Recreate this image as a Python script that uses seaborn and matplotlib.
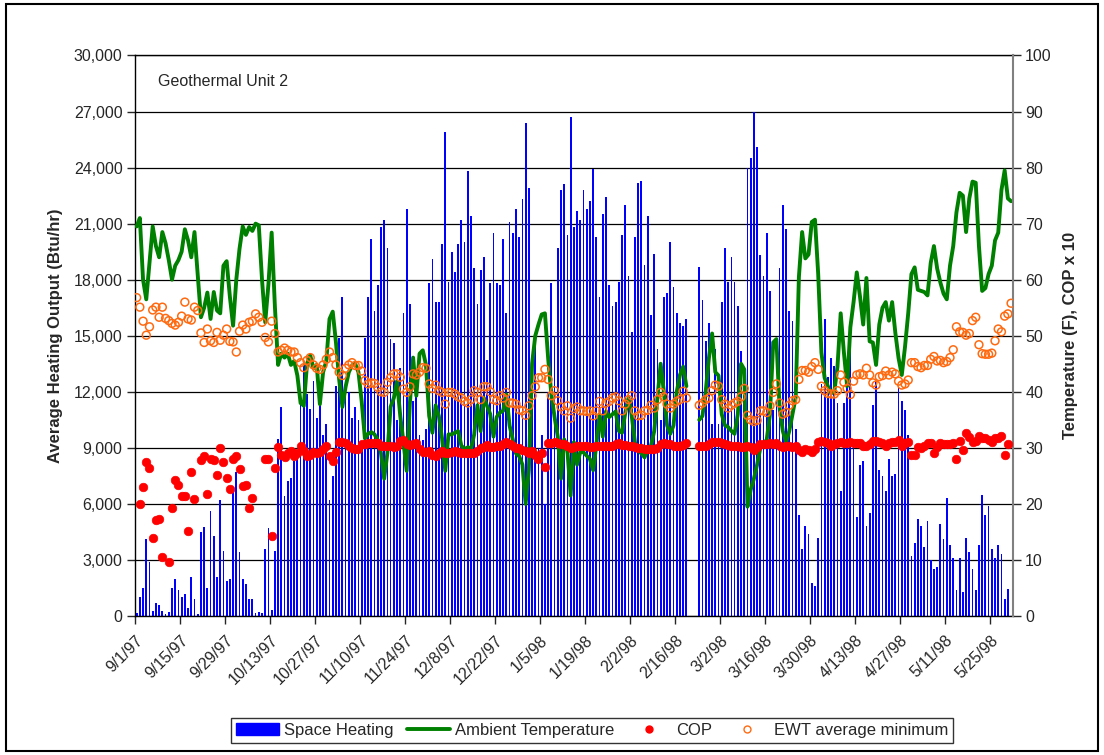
import matplotlib
matplotlib.use('Agg')
import matplotlib.pyplot as plt
import matplotlib.ticker as mticker
from matplotlib.lines import Line2D
from matplotlib.patches import Patch, Rectangle
import numpy as np
import pandas as pd
import seaborn as sns

nan = np.nan

# daily readings, 9/1/97 .. 5/31/98
dates = pd.date_range('1997-09-01', '1998-05-31', freq='D')

space_heating = [
    150, 1000, 1500, 4100, 2900, 250, 700, 600, 250, 100,
    200, 1500, 2000, 1400, 1000, 1200, 450, 2100, 900, 100,
    4500, 4750, 1500, 5600, 4300, 2100, 6200, 3500, 1900, 2000,
    6900, 7700, 3400, 2000, 1700, 900, 900, 150, 200, 150,
    3600, 4700, 300, 3500, 9500, 11200, 6400, 7200, 7400, 8300,
    8900, 11500, 13500, 11900, 11100, 12600, 10600, 11300, 9700, 10300,
    6200, 7500, 12300, 14900, 17100, 11900, 12000, 10600, 11200, 10500,
    9200, 14900, 17100, 20200, 16300, 17700, 20800, 21200, 19700, 14800,
    14600, 10500, 13300, 16200, 21800, 16700, 11500, 12300, 9700, 9400,
    10000, 17800, 19100, 16800, 16800, 19900, 25900, 17900, 19500, 18400,
    19900, 21200, 20000, 23800, 21400, 18600, 16700, 18500, 19200, 13700,
    17800, 20500, 17800, 17700, 20200, 16200, 21100, 20500, 21800, 20300,
    22300, 26400, 22900, 12600, 14500, 9000, 9700, 6000, 12000, 17800,
    15000, 19700, 22800, 23100, 20400, 26700, 20800, 21700, 21200, 22800,
    21800, 22200, 23900, 20300, 17100, 21500, 22400, 17700, 16600, 16800,
    17900, 20400, 22000, 18200, 15200, 20300, 23200, 23300, 18800, 21400,
    16100, 19400, 14300, 10500, 17100, 17300, 20000, 17600, 16200, 15700,
    15500, 15900, nan, nan, nan, 18700, 16900, 14700, 15700, 10300,
    14300, 10300, 16800, 19700, 17900, 19200, 17900, 16600, 14200, 12500,
    24000, 24500, 27000, 25100, 19300, 18200, 20500, 17400, 11000, 11500,
    18600, 22000, 20700, 16300, 15800, 10000, 5400, 3600, 4800, 4400,
    1750, 1600, 4200, 12400, 15900, 12800, 13800, 13400, 11400, 6700,
    11400, 12300, 15700, 9400, 5300, 8100, 8300, 4800, 5500, 11300,
    12600, 7800, 7500, 6700, 8400, 7500, 7600, 12200, 11500, 11000,
    9700, 3200, 3900, 5200, 4800, 3700, 5100, 3000, 2500, 2600,
    4900, 4100, 6300, 3800, 3100, 1400, 3100, 1300, 4200, 3400,
    2500, 1400, 3800, 6500, 5400, 5900, 3600, 3100, 3800, 3300,
    900, 1450, nan,
]

ambient_temp = [
    69.5, 71, 60, 56.5, 63, 69.5, 66, 64, 68.5, 66.5,
    63.5, 60, 62.5, 63.5, 65, 69, 67, 64, 68.5, 61,
    53.3, 55, 57.7, 53, 57.8, 54.5, 54, 62.5, 63.3, 57,
    51.8, 60, 65.5, 69.5, 68, 69.4, 68.7, 70, 69.7, 60,
    52.4, 59.2, 68.4, 55.3, 44.8, 46.8, 46.1, 46.8, 44.8, 45.5,
    42.9, 38, 37.5, 45, 46.5, 44.2, 44.8, 37.8, 43.5, 45.5,
    53, 54.3, 48.8, 42.2, 37.3, 40.9, 43.5, 44.7, 45, 43.5,
    38.3, 31.7, 32.5, 32.8, 32.4, 31.4, 29.1, 24.5, 29.1, 37.3,
    38.9, 41.9, 35.7, 31, 25.9, 38, 46.1, 39.3, 46.8, 47.4,
    44.8, 35.7, 32.7, 37.6, 35.7, 31.7, 25.9, 32.4, 32.4, 32.7,
    33, 30.4, 29.8, 30.1, 29.8, 32.4, 37.6, 33, 38.9, 37.5,
    36, 32, 35.5, 36.3, 36.6, 39.5, 34, 31.5, 29, 28.5,
    27, 20, 26, 45, 50, 52, 53.8, 54, 46, 39.5,
    35.5, 32, 24.5, 31.5, 29.5, 21.5, 31, 27, 29.3, 29.2,
    28.6, 28, 26, 30.5, 36, 32, 36.5, 35.5, 36, 36.5,
    33, 32.7, 36.3, 38.9, 35.7, 31, 29.5, 29, 28.3, 29.8,
    30.4, 33, 39, 45, 40, 34, 32.5, 34, 40, 43,
    44.5, 41, nan, nan, nan, 35, 35.7, 40, 46, 50.4,
    43.5, 42.9, 36, 34, 33.7, 33, 32.5, 36, 45, 44,
    19.5, 22.5, 24.5, 27, 30, 30.5, 31.5, 36, 48.8, 49.4,
    37, 33, 31, 33, 36, 39, 60.5, 68.5, 63.8, 64.5,
    70.3, 70.7, 61, 47, 42.5, 41, 39.7, 40, 44.5, 54,
    47, 41, 51.5, 56, 61.3, 57, 52, 60.3, 49, 48.8,
    44.8, 52, 55, 56, 52.7, 56, 50.5, 46, 43, 48,
    54, 61, 62.2, 58.2, 58, 57.8, 57.2, 63, 66, 62,
    59.5, 57.5, 56.5, 62.5, 66, 72, 75.5, 75, 68.5, 74.5,
    77.5, 77.3, 66, 58, 58.5, 61, 62.5, 67, 68.4, 76,
    79.5, 74.5, 74,
]

cop_x10 = [
    nan, 20, 23, 27.4, 26.4, 13.9, 17.2, 17.3, 10.5, nan,
    9.6, 19.2, 24.3, 23.4, 21.4, 21.4, 15.2, 25.7, 20.8, nan,
    27.8, 28.5, 21.7, 28.1, 27.8, 25.1, 29.9, 27.4, 24.7, 22.6,
    28.1, 28.5, 26.2, 23.2, 23.4, 19.3, 21.1, nan, nan, nan,
    28, 28.1, 14.2, 26.4, 30.1, 28.8, 28.3, 29.1, 29.5, 28.6,
    29, 30.3, 29.5, 28.5, 28.8, 29.3, 29.1, 29.3, 29.8, 30.3,
    28.6, 27.7, 29.3, 31, 31.1, 30.8, 30.3, 29.9, 29.8, 29.8,
    30.6, 30.7, 30.8, 30.8, 30.8, 30.8, 30.3, 30.4, 30.3, 30.3,
    30.1, 30.3, 31.2, 31.4, 30.6, 30.5, 30.7, 30.8, 29.8, 29.3,
    29.3, 29.4, 28.8, 28.6, 29, 29.4, 29.1, 29.1, 29.3, 29.4,
    29.2, 29.1, 29.1, 29.1, 29, 29, 29.4, 30, 30.2, 30.5,
    30.2, 30.1, 30.3, 30.4, 30.7, 31, 30.6, 30.3, 30, 29.9,
    29.6, 29.5, 29.1, 29.5, 28.8, 28.1, 29.1, 26.6, 30.8, 30.9,
    31.1, 30.8, 30.7, 30.6, 30.3, 30, 30.1, 30.3, 30.3, 30.3,
    30.3, 30.1, 30.1, 30.4, 30.4, 30.3, 30.3, 30.4, 30.4, 30.6,
    30.8, 30.5, 30.5, 30.4, 30.4, 30.2, 30, 29.9, 29.8, 29.8,
    29.8, 29.8, 29.9, 30.6, 30.8, 30.7, 30.6, 30.3, 30.4, 30.4,
    30.5, 30.8, nan, nan, nan, 30.4, 30.3, 30.3, 30.6, 31,
    31.1, 31.1, 30.8, 30.6, 30.5, 30.4, 30.4, 30.4, 30.2, 30.1,
    30.4, 30.2, 29.6, 30.1, 30.6, 30.6, 30.6, 30.8, 30.6, 30.8,
    30.4, 30.2, 30.4, 30.3, 30.1, 30.3, 29.6, 29.3, 29.8, 29.6,
    29.3, 29.8, 31.1, 31.2, 31.1, 30.8, 30.4, 30.6, 30.8, 31.1,
    30.9, 30.8, 31, 30.8, 30.8, 30.8, 30.4, 30.3, 30.6, 31.2,
    31.2, 31.1, 30.8, 30.3, 30.8, 31, 31.1, 31.4, 30.4, 30.8,
    31, 28.8, 28.8, 30.1, 29.9, 30.4, 30.9, 30.8, 29.1, 30.1,
    30.8, 30.6, 30.6, 30.6, 30.8, 28.1, 31.2, 29.6, 32.6, 31.9,
    31, 31.2, 32.1, 31.7, 31.7, 31.4, 31.1, 31.7, 31.7, 32.1,
    28.8, 30.6, nan,
]

ewt_min = [
    56.8, 55.1, 52.6, 50.1, 51.6, 54.6, 55.1, 53.3, 55.1, 53.1,
    52.7, 52.2, 51.9, 52.4, 53.5, 56, 53, 52.8, 55.1, 54.5,
    50.5, 48.8, 51.2, 49.1, 48.8, 50.6, 49.2, 50.1, 51.2, 49,
    48.9, 47.1, 50.8, 51.9, 51.2, 52.4, 52.6, 53.9, 53.3, 52.4,
    49.7, 48.9, 52.6, 50.4, 47.1, 47.4, 47.8, 47.4, 47.1, 47.1,
    46.1, 45.2, 44.3, 45.6, 46.1, 44.8, 44.2, 44, 44.8, 45.8,
    47.1, 46.1, 44.8, 43.5, 42.9, 44.2, 44.8, 45.2, 44.7, 44.7,
    43.7, 42, 41.4, 41.6, 41.5, 40.8, 40, 39.9, 41.7, 42.5,
    43.2, 43.2, 42.6, 40.5, 39.9, 40.9, 43.2, 43, 43.5, 44.3,
    44.2, 41.4, 40.6, 41.2, 40.2, 39.9, 37.8, 39.9, 39.9, 39.6,
    39.1, 38.9, 38.3, 38, 38.6, 40.2, 39.9, 38.6, 40.9, 40.9,
    40, 38.6, 38.4, 39.3, 38.9, 39.9, 38, 38, 37.8, 36.8,
    36.6, 35.8, 37.5, 39.3, 40.9, 42.5, 42.5, 44, 42.2, 39.3,
    40.2, 38.4, 37.3, 36.6, 37.5, 35.3, 37, 37.3, 36.6, 36.6,
    36.5, 36.6, 35.7, 36.6, 38.3, 36.6, 38, 38.3, 38.9, 39.1,
    38.4, 36.6, 37.8, 38.6, 39.3, 36.6, 35.7, 35.8, 36.6, 36.7,
    37.6, 37.1, 38.6, 39.9, 39.1, 37.8, 37.1, 37.8, 38.3, 38.6,
    40.1, 38.9, nan, nan, nan, 37.6, 38, 38.6, 38.9, 40.2,
    41.2, 41, 38.6, 37.8, 37.1, 37.6, 38, 38.3, 39.1, 40.6,
    35.8, 35, 34.7, 34.9, 36.6, 36.6, 36.3, 37.5, 39.9, 41.4,
    38, 36, 36.3, 37.6, 38.4, 38.6, 42.2, 43.8, 43.8, 43.5,
    44.5, 45.2, 44, 41, 40.2, 39.7, 39.6, 39.6, 40.2, 43,
    41.7, 40.6, 39.5, 41.9, 43, 43.2, 43, 44.2, 43, 41.6,
    41.2, 42.7, 42.9, 43.7, 43, 43.5, 43.2, 41.9, 41.2, 41.4,
    42.1, 45.2, 45.2, 44.5, 44.3, 44.7, 44.7, 45.8, 46.3, 45.5,
    45.6, 45.2, 45.4, 46.1, 47.5, 51.6, 50.7, 50.6, 50.1, 50.4,
    52.7, 53.3, 48.4, 46.8, 46.7, 46.7, 46.9, 49.1, 51.2, 50.7,
    53.5, 53.9, 55.8,
]

sns.set_style('white')
plt.rcParams['font.family'] = ['Liberation Sans', 'DejaVu Sans']

df = pd.DataFrame({
    'day': np.arange(len(dates)) + 0.5,
    'heat': space_heating,
    'temp': ambient_temp,
    'cop': cop_x10,
    'ewt': ewt_min,
})
# the temperature line breaks where data is missing
df['seg'] = df['temp'].isna().cumsum()

fig = plt.figure(figsize=(11.04, 7.55), dpi=100)
ax = fig.add_axes([0.1223, 0.1841, 0.795, 0.7424])
ax2 = ax.twinx()

sns.barplot(data=df.dropna(subset=['heat']), x='day', y='heat', native_scale=True,
            color='#0000FF', saturation=1, width=0.55, errorbar=None, linewidth=0, ax=ax)

sns.lineplot(data=df.dropna(subset=['temp']), x='day', y='temp', units='seg', estimator=None,
             color='#008000', lw=2.8, ax=ax2, legend=False)
sns.scatterplot(data=df, x='day', y='cop', color='#FF0000', edgecolor='#FF0000',
                s=38, linewidth=0.5, ax=ax2, legend=False, zorder=3)
sns.scatterplot(data=df, x='day', y='ewt', facecolor='none', edgecolor='#FF6A10',
                s=32, linewidth=1.1, ax=ax2, legend=False, zorder=4)

# axes limits and ticks
ax.set_xlim(0, len(dates))
ax.set_ylim(0, 30000)
ax2.set_ylim(0, 100)
ax.yaxis.set_major_locator(mticker.MultipleLocator(3000))
ax.yaxis.set_major_formatter(mticker.FuncFormatter(lambda v, p: f'{int(v):,}'))
ax2.yaxis.set_major_locator(mticker.MultipleLocator(10))

tick_days = np.arange(0, len(dates), 14)
ax.set_xticks(tick_days)
ax.set_xticklabels([f'{dates[d].month}/{dates[d].day}/{dates[d].strftime("%y")}' for d in tick_days],
                   rotation=45, ha='right', rotation_mode='anchor', fontsize=11.5)
ax2.set_xlim(0, len(dates))

ax.yaxis.grid(True, color='#000000', lw=0.9)
ax.xaxis.grid(False)
ax.set_axisbelow(True)

ax.tick_params(axis='y', direction='out', length=6, width=1, labelsize=11.5, pad=3, left=True)
ax.tick_params(axis='x', direction='out', length=6, width=1, pad=6, bottom=True)
ax2.tick_params(axis='y', direction='out', length=6, width=1, labelsize=11.5, pad=3, right=True)

for side in ['left', 'top', 'bottom']:
    ax.spines[side].set_color('black')
    ax.spines[side].set_linewidth(1)
ax.spines['right'].set_visible(False)
for side in ['left', 'top', 'bottom']:
    ax2.spines[side].set_visible(False)
ax2.spines['right'].set_color('#808080')
ax2.spines['right'].set_linewidth(1.5)

ax.set_xlabel('')
ax2.set_xlabel('')
ax.set_ylabel('Average Heating Output (Btu/hr)', fontsize=12, fontweight='bold', labelpad=8)
ax2.set_ylabel('Temperature (F), COP x 10', fontsize=12, fontweight='bold', labelpad=8)

ax.text(0.026, 0.953, 'Geothermal Unit 2', transform=ax.transAxes, fontsize=11.5, va='center', ha='left')

handles = [
    Patch(facecolor='#0000FF', edgecolor='#0000FF'),
    Line2D([], [], color='#008000', lw=2.8),
    Line2D([], [], color='#FF0000', marker='o', ls='none', markersize=5),
    Line2D([], [], color='#FF6A10', marker='o', ls='none', markersize=5, markerfacecolor='none'),
]
labels = ['Space Heating', 'Ambient Temperature', 'COP', 'EWT average minimum']
leg = fig.legend(handles, labels, loc='center', bbox_to_anchor=(0.536, 0.033), ncol=4,
                 frameon=True, fancybox=False, edgecolor='black', fontsize=12,
                 handlelength=2.6, handletextpad=0.3, columnspacing=0.8, borderpad=0.3)
leg.get_frame().set_linewidth(1)

fig.patches.append(Rectangle((0.0054, 0.005), 0.989, 0.99, transform=fig.transFigure,
                             fill=False, edgecolor='black', lw=1.5))

fig.savefig('out.png', dpi=100)
